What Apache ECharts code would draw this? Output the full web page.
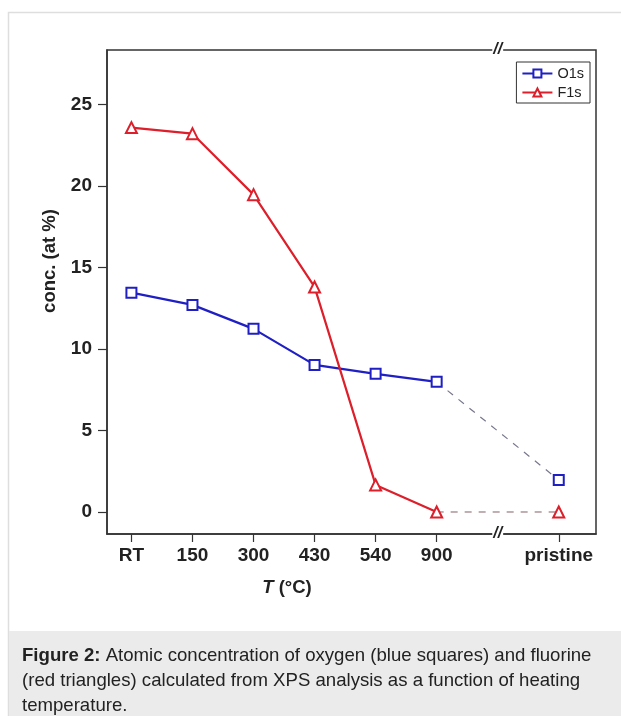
<!DOCTYPE html>
<html>
<head>
<meta charset="utf-8">
<script src="https://cdn.jsdelivr.net/npm/echarts@6/dist/echarts.min.js"></script>
<style>
  html, body { margin: 0; padding: 0; background: #fff; }
  #chart { width: 621px; height: 716px; }
</style>
</head>
<body>
<div id="chart"></div>
<script>
// category positions on the x axis (pristine sits after the axis break)
var tickPos = [0, 1, 2, 3, 4, 5, 7];
var tickLabels = ['RT', '150', '300', '430', '540', '900', 'pristine'];

var o1s = [13.45, 12.7, 11.23, 9.02, 8.47, 7.98, 1.96];
var f1s = [23.57, 23.2, 19.46, 13.8, 1.66, 0, 0];

var yTicks = [0, 5, 10, 15, 20, 25];

var font = '"Liberation Sans", Arial, sans-serif';
var blue = '#1f1fc4';
var red = '#dc1f2a';

function heated(vals) {
    return vals.slice(0, 6).map(function (v, i) { return [tickPos[i], v]; });
}
function toPristine(vals) {
    return [
        {value: [tickPos[5], vals[5]], symbol: 'none'},
        {value: [tickPos[6], vals[6]]}
    ];
}

var chart = echarts.init(document.getElementById('chart'));

var option = {
    animation: false,
    grid: {
        left: 107, right: 25, top: 50, bottom: 182,
        show: true, borderColor: '#333', borderWidth: 1.5
    },
    legend: {
        data: ['O1s', 'F1s'],
        orient: 'vertical',
        right: 31, top: 62,
        itemWidth: 30, itemHeight: 10, itemGap: 4,
        padding: [4, 6, 3, 5],
        borderColor: '#333', borderWidth: 1,
        textStyle: {fontFamily: font, fontSize: 14.5, color: '#222'}
    },
    xAxis: {
        type: 'value', min: -0.4, max: 7.61,
        splitLine: {show: false},
        axisLine: {onZero: false, lineStyle: {color: '#333', width: 1.5}},
        axisTick: {customValues: tickPos, length: 8, lineStyle: {color: '#333', width: 1.2}},
        axisLabel: {
            customValues: tickPos, margin: 12,
            fontFamily: font, fontSize: 19, fontWeight: 'bold', color: '#222',
            formatter: function (v) { return tickLabels[tickPos.indexOf(v)]; }
        }
    },
    yAxis: {
        type: 'value', min: -1.35, max: 28.33,
        splitLine: {show: false},
        axisLine: {show: true, onZero: false, lineStyle: {color: '#333', width: 1.5}},
        axisTick: {show: true, customValues: yTicks, length: 9, lineStyle: {color: '#333', width: 1.2}},
        axisLabel: {
            customValues: yTicks, margin: 15,
            fontFamily: font, fontSize: 19, fontWeight: 'bold', color: '#222'
        }
    },
    series: [
        {
            name: 'O1s-p', type: 'line', z: 1,
            data: toPristine(o1s),
            symbol: 'emptyRect', symbolSize: 10,
            lineStyle: {color: '#77778c', width: 1.2, type: [7, 7]},
            itemStyle: {color: blue, borderWidth: 2.2}
        },
        {
            name: 'F1s-p', type: 'line', z: 1,
            data: toPristine(f1s),
            symbol: 'emptyTriangle', symbolSize: 11,
            lineStyle: {color: '#9a7a80', width: 1.2, type: [7, 7]},
            itemStyle: {color: red, borderWidth: 2.2}
        },
        {
            name: 'O1s', type: 'line', z: 3,
            data: heated(o1s),
            symbol: 'emptyRect', symbolSize: 10,
            lineStyle: {color: blue, width: 2.2},
            itemStyle: {color: blue, borderWidth: 2.2}
        },
        {
            name: 'F1s', type: 'line', z: 3,
            data: heated(f1s),
            symbol: 'emptyTriangle', symbolSize: 11,
            lineStyle: {color: red, width: 2.2},
            itemStyle: {color: red, borderWidth: 2.2}
        }
    ]
};
chart.setOption(option);

// axis break marks, frame and caption
var brkTop = chart.convertToPixel({gridIndex: 0}, [6, 28.33]);
var brkBot = chart.convertToPixel({gridIndex: 0}, [6, -1.35]);

chart.setOption({
    graphic: [
        {type: 'rect', shape: {x: 8.5, y: 12.5, width: 700, height: 800},
            style: {fill: null, stroke: '#dedede', lineWidth: 1.5}, z: -10},
        {type: 'rect', shape: {x: 9, y: 631, width: 612, height: 85},
            style: {fill: '#ebebeb'}, z: -9},
        {type: 'text', x: brkTop[0], y: brkTop[1], z: 10,
            style: {text: '//', fontFamily: font, fontSize: 16, fontWeight: 'bold', fontStyle: 'italic',
                fill: '#222', align: 'center', verticalAlign: 'middle',
                backgroundColor: '#fff', padding: [0, 1]}},
        {type: 'text', x: brkBot[0], y: brkBot[1], z: 10,
            style: {text: '//', fontFamily: font, fontSize: 16, fontWeight: 'bold', fontStyle: 'italic',
                fill: '#222', align: 'center', verticalAlign: 'middle',
                backgroundColor: '#fff', padding: [0, 1]}},
        {type: 'text', x: 50, y: 261, rotation: Math.PI / 2,
            style: {text: 'conc. (at %)', fontFamily: font, fontSize: 18.5, fontWeight: 'bold',
                fill: '#222', align: 'center', verticalAlign: 'middle'}},
        {type: 'text', x: 287, y: 588,
            style: {
                text: '{i|T} (°C)', fontFamily: font, fontSize: 18.5, fontWeight: 'bold',
                fill: '#222', align: 'center', verticalAlign: 'middle',
                rich: {i: {fontFamily: font, fontSize: 18.5, fontWeight: 'bold', fontStyle: 'italic', fill: '#222'}}
            }},
        {type: 'text', x: 22, y: 643,
            style: {
                text: '{b|Figure 2:} Atomic concentration of oxygen (blue squares) and fluorine\n' +
                    '(red triangles) calculated from XPS analysis as a function of heating\n' +
                    'temperature.',
                fontFamily: font, fontSize: 18.6, lineHeight: 25, fill: '#222',
                rich: {b: {fontFamily: font, fontSize: 18.6, fontWeight: 'bold', fill: '#222', lineHeight: 25}}
            }}
    ]
});
</script>
</body>
</html>
